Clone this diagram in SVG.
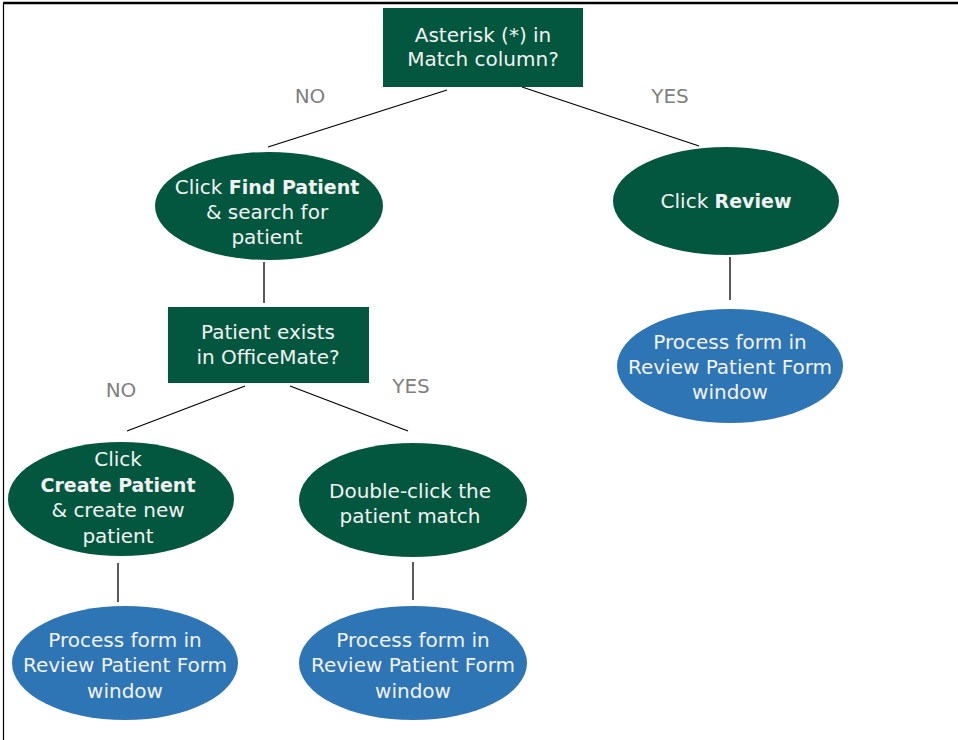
<svg xmlns="http://www.w3.org/2000/svg" width="958" height="740" viewBox="0 0 958 740">
<style>
.g{fill:#04573f}
.b{fill:#2e75b6}
.t{font-family:"DejaVu Sans","Liberation Sans",sans-serif;font-size:20px;fill:#f2f2f2;text-anchor:middle}
.bd{font-weight:bold;font-size:19px}
.lbl{font-family:"DejaVu Sans","Liberation Sans",sans-serif;font-size:20px;fill:#7f7f7f;text-anchor:middle}
.c{stroke:#000;stroke-width:1.3;fill:none}
</style>
<rect x="0" y="0" width="958" height="740" fill="#fff"/>
<g id="frame">
<line x1="3" y1="3" x2="958" y2="3" stroke="#000" stroke-width="2.5"/>
<line x1="3.5" y1="3" x2="3.5" y2="740" stroke="#000" stroke-width="1.2"/>
</g>
<g id="connectors">
<line class="c" x1="447" y1="90" x2="268" y2="147"/>
<line class="c" x1="522" y1="87" x2="699" y2="146"/>
<line class="c" x1="264" y1="262" x2="264" y2="303"/>
<line class="c" x1="730" y1="257" x2="730" y2="300"/>
<line class="c" x1="245" y1="386" x2="127" y2="431"/>
<line class="c" x1="290" y1="386" x2="408" y2="431"/>
<line class="c" x1="118" y1="563" x2="118" y2="602"/>
<line class="c" x1="413" y1="562" x2="413" y2="600"/>
<text class="lbl" x="310" y="103">NO</text>
<text class="lbl" x="670" y="103">YES</text>
<text class="lbl" x="121" y="397">NO</text>
<text class="lbl" x="411" y="393">YES</text>
</g>
<g id="asterisk">
<rect class="g" x="383" y="8" width="200" height="79"/>
<text class="t" x="483" y="42">Asterisk (*) in</text>
<text class="t" x="483" y="66">Match column?</text>
</g>
<g id="findPatient">
<ellipse class="g" cx="269" cy="206" rx="114" ry="54"/>
<text class="t" x="267" y="194">Click <tspan class="bd">Find Patient</tspan></text>
<text class="t" x="267" y="219">&amp; search for</text>
<text class="t" x="267" y="244">patient</text>
</g>
<g id="clickReview">
<ellipse class="g" cx="726" cy="201" rx="113" ry="54"/>
<text class="t" x="726" y="208">Click <tspan class="bd">Review</tspan></text>
</g>
<g id="processRight">
<ellipse class="b" cx="730" cy="366" rx="113" ry="57"/>
<text class="t" x="730" y="349">Process form in</text>
<text class="t" x="730" y="374">Review Patient Form</text>
<text class="t" x="730" y="399">window</text>
</g>
<g id="patientExists">
<rect class="g" x="168" y="307" width="201" height="76"/>
<text class="t" x="268" y="339">Patient exists</text>
<text class="t" x="268" y="364">in OfficeMate?</text>
</g>
<g id="createPatient">
<ellipse class="g" cx="121" cy="499" rx="113" ry="57"/>
<text class="t" x="118" y="466">Click</text>
<text class="t bd" x="118" y="492">Create Patient</text>
<text class="t" x="118" y="517">&amp; create new</text>
<text class="t" x="118" y="543">patient</text>
</g>
<g id="doubleClick">
<ellipse class="g" cx="413" cy="500" rx="114" ry="57"/>
<text class="t" x="410" y="498">Double-click the</text>
<text class="t" x="410" y="523">patient match</text>
</g>
<g id="processLeft">
<ellipse class="b" cx="125" cy="663" rx="113" ry="57"/>
<text class="t" x="125" y="647">Process form in</text>
<text class="t" x="125" y="672">Review Patient Form</text>
<text class="t" x="125" y="698">window</text>
</g>
<g id="processMid">
<ellipse class="b" cx="413" cy="663" rx="114" ry="57"/>
<text class="t" x="413" y="647">Process form in</text>
<text class="t" x="413" y="672">Review Patient Form</text>
<text class="t" x="413" y="698">window</text>
</g>
</svg>
